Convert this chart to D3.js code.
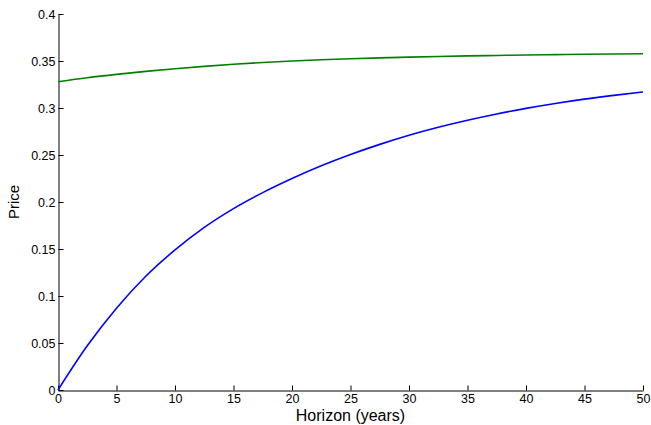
<!DOCTYPE html>
<html>
<head>
<meta charset="utf-8">
<script src="https://cdn.jsdelivr.net/npm/d3@7"></script>
<style>
  body { margin: 0; background: #fff; }
  svg text { font-family: "Liberation Sans", Arial, sans-serif; fill: #000; }
</style>
</head>
<body>
<svg id="chart"></svg>
<script>
// horizon in years
const horizon = [0, 2.5, 5, 7.5, 10, 12.5, 15, 17.5, 20, 22.5, 25, 27.5, 30, 32.5, 35, 37.5, 40, 42.5, 45, 47.5, 50];
// blue series
const priceBlue = [0, 0.047, 0.087, 0.121, 0.149, 0.173, 0.193, 0.210, 0.225, 0.2385, 0.2505, 0.2613, 0.271, 0.2795, 0.287, 0.2937, 0.2996, 0.3048, 0.3094, 0.3134, 0.317];
// green series
const priceGreen = [0.328, 0.3322, 0.3358, 0.339, 0.3418, 0.3443, 0.3465, 0.3484, 0.35, 0.3513, 0.3524, 0.3533, 0.3541, 0.3548, 0.3554, 0.3559, 0.3564, 0.3568, 0.3572, 0.3575, 0.3577];
const xTicks = [0, 5, 10, 15, 20, 25, 30, 35, 40, 45, 50];
const yTicks = [0, 0.05, 0.1, 0.15, 0.2, 0.25, 0.3, 0.35, 0.4];

const width = 651, height = 425;
const margin = { top: 14, right: 8, bottom: 35, left: 58 };

const svg = d3.select('#chart').attr('width', width).attr('height', height);

const x = d3.scaleLinear().domain([0, 50]).range([margin.left, width - margin.right]);
const y = d3.scaleLinear().domain([0, 0.4]).range([height - margin.bottom, margin.top]);

// axes, ticks pointing inward like matlab
const xAxis = d3.axisBottom(x).tickValues(xTicks).tickSizeInner(-5).tickSizeOuter(0)
    .tickPadding(4).tickFormat(d3.format('d'));
const yAxis = d3.axisLeft(y).tickValues(yTicks).tickSizeInner(-5).tickSizeOuter(0)
    .tickPadding(3).tickFormat(d => d === 0 ? '0' : String(+d.toFixed(2)));

const gx = svg.append('g')
    .attr('transform', `translate(0, ${height - margin.bottom + 0.5})`)
    .call(xAxis);
const gy = svg.append('g')
    .attr('transform', `translate(${margin.left + 0.5}, 0)`)
    .call(yAxis);

[gx, gy].forEach(g => {
    g.selectAll('path, line').attr('stroke', '#000').attr('stroke-width', 1);
    g.selectAll('text').style('font-size', '12.5px').style('font-family', '"Liberation Sans", Arial, sans-serif');
});

const line = d3.line()
    .x((d, i) => x(horizon[i]))
    .y(d => y(d))
    .curve(d3.curveMonotoneX);

svg.append('path')
    .datum(priceGreen)
    .attr('fill', 'none')
    .attr('stroke', '#008000')
    .attr('stroke-width', 1.6)
    .attr('d', line);

svg.append('path')
    .datum(priceBlue)
    .attr('fill', 'none')
    .attr('stroke', '#0000ff')
    .attr('stroke-width', 1.6)
    .attr('d', line);

// axis titles
svg.append('text')
    .attr('x', (x(0) + x(50)) / 2)
    .attr('y', 421)
    .attr('text-anchor', 'middle')
    .style('font-size', '16px')
    .text('Horizon (years)');

svg.append('text')
    .attr('transform', `translate(19, ${(y(0) + y(0.4)) / 2}) rotate(-90)`)
    .attr('text-anchor', 'middle')
    .style('font-size', '15px')
    .text('Price');
</script>
</body>
</html>
